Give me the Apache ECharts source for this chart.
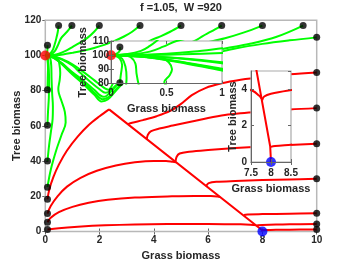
<!DOCTYPE html>
<html><head><meta charset="utf-8">
<script src="https://cdn.jsdelivr.net/npm/echarts@6/dist/echarts.min.js"></script>
<style>html,body{margin:0;padding:0;background:#fff}#c{width:350px;height:263px}</style>
</head><body><div id="c"></div>
<script>
// ---------- title / labels ----------
const titleText = 'f =1.05,  W =920';
const xName = 'Grass biomass';
const yName = 'Tree biomass';

// ---------- axis ranges [min, max, interval] ----------
const mainX = [0, 10, 2];
const mainY = [0, 120, 20];
const inset1X = [0, 1, 0.5];
const inset1Y = [80, 110, 10];
const inset2X = [7.5, 8.5, 0.5];
const inset2Y = [0, 5, 2];

// ---------- equilibria ----------
const forestEq = [0, 100];
const grassEq = [8, 0];

// ---------- green trajectories (to forest) ----------
const gL105 = [[0.08,105.8],[0.08,103.5],[0.06,101.5],[0.03,100.4],[0,100]];
const gL80 = [[0.08,80.6],[0.09,87],[0.1,93],[0.08,97.5],[0.04,99.5],[0,100]];
const gL60 = [[0.08,60.3],[0.1,68],[0.13,76],[0.14,84],[0.13,92],[0.1,97.5],[0.05,99.5],[0,100]];
const gL40 = [[0.08,40],[0.14,49],[0.21,57],[0.27,64],[0.28,71],[0.25,79],[0.23,87],[0.22,94],[0.18,98.5],[0.1,99.8],[0,100]];
const gL25 = [[0.08,25.2],[0.2,35],[0.4,46],[0.6,55],[0.75,62],[0.72,68],[0.6,74],[0.5,78.5],[0.48,81],[0.53,86],[0.55,90],[0.52,95],[0.45,98.5],[0.3,99.8],[0,100]];
const gT05 = [[0.49,117],[0.46,113.5],[0.41,110],[0.35,106.5],[0.27,103],[0.15,100.8],[0,100]];
const gT1 = [[0.98,117],[0.8,113.5],[0.59,110],[0.47,106],[0.35,102.5],[0.2,100.6],[0,100]];
const gT2 = [[1.99,117],[1.8,113.5],[1.55,110],[1.25,107],[1.0,104.8],[0.75,102.6],[0.5,101],[0.3,100.3],[0,100]];
const gT35 = [[3.49,117],[3.2,113.5],[2.9,110.8],[2.55,108.3],[2.2,106.2],[1.8,104.3],[1.4,102.7],[1.0,101.5],[0.65,100.6],[0.35,100.2],[0,100]];
const gT5 = [[5,117],[4.6,113.5],[4.2,110.6],[3.85,108.3],[3.3,102],[2.85,93],[2.55,86],[2.42,82],[2.33,80.6],[2.18,81.5],[1.8,86],[1.4,90.7],[1.0,95],[0.6,98],[0.3,99.4],[0,100]];
const gT65 = [[6.5,117],[6.1,113.5],[5.8,111],[5.52,108.4],[4.8,104],[3.8,96],[3.0,88],[2.6,83],[2.38,79.8],[2.22,78.8],[2.0,80.8],[1.7,84.5],[1.3,90],[1.0,94.3],[0.6,97.8],[0.3,99.3],[0,100]];
const gT8 = [[8,117],[7.3,113],[6.62,109.8],[5.6,106],[4.4,100],[3.4,92],[2.75,85],[2.45,80],[2.25,77],[2.13,76.6],[1.8,80.5],[1.4,85.8],[1.0,90.5],[0.6,95.8],[0.3,98.9],[0,100]];
const gT95 = [[9.5,117],[8.5,110.5],[7.5,106.5],[6.62,104],[5.2,99],[4.0,93.5],[3.1,87.5],[2.65,81.5],[2.35,76.5],[2.12,75.2],[1.8,79],[1.4,84.8],[1.0,89.8],[0.6,95.5],[0.3,98.8],[0,100]];
const gR110 = [[10,110.3],[9,108.6],[8,106.6],[7,104],[6.3,101.5],[5.0,97],[3.8,92],[3.0,86],[2.6,80],[2.3,75],[2.07,73.9],[1.8,77.8],[1.4,83.8],[1.0,89.2],[0.6,95.2],[0.3,98.7],[0,100]];

// ---------- red trajectories (to grassland) ----------
const rL18 = [[0.08,18.3],[0.15,24],[0.3,31],[0.5,38],[0.8,46],[1.2,54],[1.6,60.5],[2.0,65.5],[2.35,69.4]];
const rL10 = [[0.08,10.2],[0.2,14.5],[0.45,20],[0.8,25.5],[1.3,30.5],[1.9,34.5],[2.6,37.5],[3.3,39.3],[4.0,40.1],[4.45,40.1],[4.7,39.6],[4.82,39.3]];
const rL5 = [[0.08,5.3],[0.2,7.8],[0.5,11],[1.0,14],[1.6,16.3],[2.3,18],[3.3,19.3],[4.5,19.9],[5.5,20.2],[6.1,20.2],[6.35,19.9],[6.44,19.6]];
const rL1 = [[0.08,1.1],[0.5,1.9],[1.2,2.7],[2.2,3.5],[3.3,4.0],[4.5,4.2],[6,4.2],[7.2,4.1],[7.55,3.9],[7.7,3.65],[7.76,3.5]];
const rR90 = [[10,90.4],[9,89.3],[8,87.8],[7.2,86.2],[6.5,84.2],[5.9,81.5],[5.4,77.5],[5.0,72.5],[4.6,68.5],[4.1,65.5],[3.6,63.3],[3.2,61.8],[3.04,61]];
const rR70 = [[10,70.1],[9,69.3],[8,68.2],[7.2,67.2],[6.62,66.2],[6.0,64.5],[5.4,62.5],[4.7,60.2],[4.2,58.5],[3.9,57],[3.78,55],[3.74,52.5]];
const rR50 = [[10,49.9],[9,49.1],[8,48.3],[7,47.4],[6,46.3],[5.3,45.3],[4.95,44.3],[4.84,42.5],[4.8,39.8]];
const rR30 = [[10,30],[9,29.6],[8,29.2],[7,28.7],[6.3,28.2],[6.02,27.5],[5.95,26.4],[5.94,25.7]];
const rR10 = [[10,10.3],[9,10.1],[8,9.9],[7.45,9.7],[7.32,9.35],[7.31,9.0]];
const rR4 = [[10,4.2],[9,4.1],[8.5,3.95],[8,3.75],[7.83,3.6],[7.78,3.4]];
const rR1 = [[10,1.2],[9,1.05],[8.5,0.95],[8.1,0.88],[7.99,0.83]];
const rSlide = [[2.35,69.4],[7.98,0.85],[8,0]];

const greenTraj = [gL105,gL80,gL60,gL40,gL25,gT05,gT1,gT2,gT35,gT5,gT65,gT8,gT95,gR110];
const redTraj = [rL18,rL10,rL5,rL1,rR90,rR70,rR50,rR30,rR10,rR4,rR1];
const startPoints = greenTraj.concat(redTraj).map(t => t[0]);

// ---------- rendering ----------
const FONT = '"Liberation Sans", Arial, sans-serif';
const TXT = '#262626';
const GREEN = '#00ff00', RED = '#ff0000';

const gridBase = {show:true, containLabel:false, outerBoundsMode:'none'};
const grids = [
  Object.assign({}, gridBase, {left:45.3, top:20.3, width:271.4, height:211.2, borderColor:'#b8b8b8', borderWidth:1.5, backgroundColor:'transparent', z:1}),
  Object.assign({}, gridBase, {left:111, top:41, width:111, height:42.5, borderColor:'#aaaaaa', borderWidth:1.2, backgroundColor:'#ffffff', z:10}),
  Object.assign({}, gridBase, {left:251, top:71, width:40, height:91, borderColor:'#aaaaaa', borderWidth:1.2, backgroundColor:'#ffffff', z:10})
];
const ranges = [[mainX, mainY],[inset1X, inset1Y],[inset2X, inset2Y]];
const nameGaps = [[19, 23],[20, 22.5],[21.5, 13]];
const labelMargins = [[4, 4],[5, 2],[6, 4]];
const xAxes = [], yAxes = [];
ranges.forEach((r, g) => {
  const az = g === 0 ? 0 : 13;
  const nameStyle = {fontSize:11, fontWeight:'bold', color:TXT, fontFamily:FONT};
  const lbl = (m) => ({margin:m, fontSize:10, fontWeight:'bold', color:TXT, fontFamily:FONT});
  const tick = {inside:true, length:3, lineStyle:{color:'#666', width:1}};
  xAxes.push({type:'value', gridIndex:g, min:r[0][0], max:r[0][1], interval:r[0][2], position:'bottom', z:az,
    axisLine:{show:true, onZero:false, lineStyle:{color:'#666', width:1}}, axisTick:tick,
    axisLabel:lbl(labelMargins[g][0]), splitLine:{show:false}, nameMoveOverlap:false,
    name:xName, nameLocation:'middle', nameGap:nameGaps[g][0], nameTextStyle:nameStyle});
  xAxes.push({type:'value', gridIndex:g, min:r[0][0], max:r[0][1], interval:r[0][2], position:'top', z:az,
    axisLine:{show:false}, axisTick:tick, axisLabel:{show:false}, splitLine:{show:false}});
  yAxes.push({type:'value', gridIndex:g, min:r[1][0], max:r[1][1], interval:r[1][2], position:'left', z:az,
    axisLine:{show:true, onZero:false, lineStyle:{color:'#666', width:1}}, axisTick:tick,
    axisLabel:Object.assign(lbl(labelMargins[g][1]), {showMaxLabel: g === 2 ? false : true}), splitLine:{show:false},
    nameMoveOverlap:false,
    name:yName, nameLocation:'middle', nameGap:nameGaps[g][1], nameTextStyle:nameStyle});
  yAxes.push({type:'value', gridIndex:g, min:r[1][0], max:r[1][1], interval:r[1][2], position:'right', z:az,
    axisLine:{show:false}, axisTick:tick, axisLabel:{show:false}, splitLine:{show:false}});
});

const series = [];
[0,1,2].forEach(g => {
  const z = g === 0 ? 2 : 12;
  const base = {type:'line', xAxisIndex:g*2, yAxisIndex:g*2, symbol:'none', showSymbol:false, silent:true, animation:false, clip:true, z:z};
  redTraj.forEach(t => series.push(Object.assign({}, base, {data:t, smooth:0.35, lineStyle:{color:RED, width:2}})));
  series.push(Object.assign({}, base, {data:rSlide, smooth:false, lineStyle:{color:RED, width:2}}));
  greenTraj.forEach(t => series.push(Object.assign({}, base, {data:t, smooth:0.35, lineStyle:{color:GREEN, width:2}})));
  const sc = {type:'scatter', xAxisIndex:g*2, yAxisIndex:g*2, silent:true, animation:false, clip:true, z:z+0.5};
  series.push(Object.assign({}, sc, {data:startPoints, symbolSize:7, itemStyle:{color:'#000'}}));
  series.push(Object.assign({}, sc, {data:[forestEq], symbolSize:10, itemStyle:{color:'#ff0000'}}));
  series.push(Object.assign({}, sc, {data:[grassEq], symbolSize:10, itemStyle:{color:'#0000ff'}}));
});

const chart = echarts.init(document.getElementById('c'), null, {renderer:'canvas'});
chart.setOption({
  animation:false,
  backgroundColor:'#ffffff',
  grid:grids, xAxis:xAxes, yAxis:yAxes, series:series,
  graphic:[{type:'text', x:181, y:8, z:20, style:{text:titleText, fill:TXT, font:'bold 11px ' + FONT, align:'center', verticalAlign:'middle', textAlign:'center', textVerticalAlign:'middle'}}]
});
</script>
</body></html>
